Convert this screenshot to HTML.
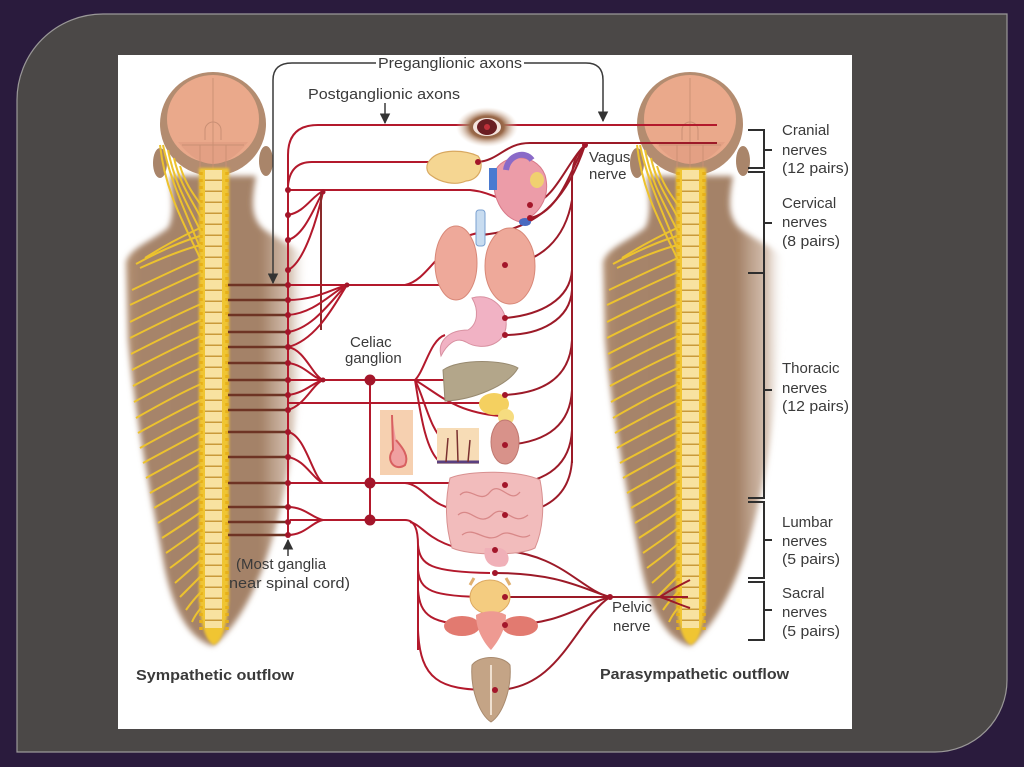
<!DOCTYPE html>
<html><head><meta charset="utf-8"><style>
html,body{margin:0;padding:0;background:#2a1b3d;}
svg{display:block;}
text{font-family:"Liberation Sans",sans-serif;fill:#3a3a3a;}
</style></head><body>
<svg width="1024" height="767" viewBox="0 0 1024 767" xmlns="http://www.w3.org/2000/svg">
<defs>
  <linearGradient id="bodyG" x1="0" y1="0" x2="1" y2="0">
    <stop offset="0" stop-color="#b38f70"/>
    <stop offset="0.08" stop-color="#a6846a"/>
    <stop offset="0.74" stop-color="#a48268"/>
    <stop offset="0.9" stop-color="#c2a58e" stop-opacity="0.7"/>
    <stop offset="1" stop-color="#ffffff" stop-opacity="0"/>
  </linearGradient>
  <filter id="soft" x="-10%" y="-10%" width="120%" height="120%"><feGaussianBlur stdDeviation="3"/></filter>
  <filter id="soft1" x="-20%" y="-20%" width="140%" height="140%"><feGaussianBlur stdDeviation="1.2"/></filter>
  <radialGradient id="eyeG" cx="0.5" cy="0.5" r="0.5">
    <stop offset="0" stop-color="#6a3a2a"/>
    <stop offset="0.55" stop-color="#9a6a4a"/>
    <stop offset="1" stop-color="#e8d2c0" stop-opacity="0"/>
  </radialGradient>
  <pattern id="vert" x="0" y="170" width="20" height="11" patternUnits="userSpaceOnUse">
    <rect width="20" height="11" fill="#f8e2a0"/>
    <rect y="9.5" width="20" height="1.5" fill="#c99a3a"/>
  </pattern>
  <marker id="ah" viewBox="0 0 10 10" refX="9" refY="5" markerWidth="7" markerHeight="7" orient="auto">
    <path d="M0 0 L10 5 L0 10 Z" fill="#333"/>
  </marker>
  <g id="fig">
    <path filter="url(#soft)" fill="url(#bodyG)" d="M213 646 C190 640 172 610 163 560 C152 500 135 420 128 340 L126 262 C130 248 150 242 168 228 C175 215 172 195 170 176 L256 176 C252 200 250 215 262 228 C275 238 292 245 308 258 L302 360 C294 470 270 600 213 646 Z"/>
    <ellipse cx="160" cy="163" rx="7" ry="15" fill="#a9856a"/>
    <ellipse cx="266" cy="161" rx="7" ry="15" fill="#a9856a"/>
    <ellipse cx="213" cy="124" rx="53" ry="52" fill="#b38c70"/>
    <ellipse cx="213" cy="119" rx="46" ry="44" fill="#eaa98b"/>
    <path d="M178 142 Q213 186 248 142 Z" fill="#e3a084"/>
    <path d="M213 78 L213 170 M182 145 L244 145 M200 145 L200 168 M226 145 L226 168" stroke="#c98f74" stroke-width="0.9" fill="none"/>
    <path d="M205 140 L205 130 A8 8 0 1 1 221 130 L221 140" stroke="#c98f74" stroke-width="1" fill="none"/>
    <!-- spine -->
    <path d="M199 168 L229 168 L229 600 Q226 640 214 645 Q202 640 199 600 Z" fill="#f0c530" filter="url(#soft1)"/>
    <path d="M205 170 L222 170 L222 628 L205 628 Z" fill="url(#vert)"/>
    <path d="M201 172 L201 632 M227 172 L227 632" stroke="#e6b01a" stroke-width="3.5" stroke-dasharray="3 4" fill="none"/>
    <!-- nerves -->
    <g stroke="#ecc22e" stroke-width="2" fill="none">
      <path d="M160 145 C165 190 182 220 200 258"/>
      <path d="M163 145 C170 180 185 210 200 248"/>
      <path d="M168 150 C175 185 188 205 201 232"/>
      <path d="M174 158 C180 185 192 200 201 218"/>
      <path d="M180 166 C186 185 194 195 201 205"/>
      <path d="M200 228 C185 235 165 245 145 258"/>
      <path d="M200 236 C180 242 158 252 136 264"/>
      <path d="M201 245 Q180 250 140 268"/>
      <path d="M201 258 Q178 268 132 290"/>
      <path d="M201 272 Q178 282 130 305"/>
      <path d="M201 288 Q178 298 130 322"/>
      <path d="M201 304 Q178 314 130 338"/>
      <path d="M201 320 Q178 330 131 354"/>
      <path d="M201 336 Q178 346 132 370"/>
      <path d="M201 352 Q178 362 133 386"/>
      <path d="M201 368 Q178 378 134 402"/>
      <path d="M201 384 Q178 394 136 418"/>
      <path d="M201 400 Q180 410 138 433"/>
      <path d="M201 416 Q180 426 140 448"/>
      <path d="M201 432 Q182 442 143 463"/>
      <path d="M201 448 Q182 458 146 478"/>
      <path d="M201 464 Q184 474 150 493"/>
      <path d="M201 480 Q185 490 154 508"/>
      <path d="M201 496 Q186 506 158 523"/>
      <path d="M201 512 Q187 522 162 538"/>
      <path d="M201 528 Q188 538 166 553"/>
      <path d="M201 544 Q189 554 170 568"/>
      <path d="M201 560 Q190 570 175 583"/>
      <path d="M201 576 Q192 585 180 597"/>
      <path d="M201 592 Q193 600 186 610"/>
      <path d="M201 608 Q195 615 192 622"/>
    </g>
  </g>
</defs>

<!-- frame -->
<path d="M17 100 A86 86 0 0 1 103 14 L1007 14 L1007 680 A72 72 0 0 1 935 752 L17 752 Z" fill="#4b4847" stroke="#9a9898" stroke-width="1.2"/>
<rect x="118" y="55" width="734" height="674" fill="#ffffff"/>

<!-- figures -->
<use href="#fig"/>
<use href="#fig" transform="translate(477,0)"/>

<!-- sympathetic horizontal brown lines -->
<g stroke="#6e3424" stroke-width="2.5">
  <path d="M228 285H290 M228 300H290 M228 315H290 M228 332H290 M228 347H290 M228 363H290 M228 380H290 M228 395H290 M228 410H290 M228 432H290 M228 457H290 M228 483H290 M228 507H290 M228 522H290 M228 535H290"/>
</g>

<!-- red sympathetic lines -->
<g stroke="#b3192c" stroke-width="2" fill="none">
  <path d="M288 537 L288 155 Q288 125 318 125 L717 125"/>
  <path d="M288 186 Q290 162 312 162 L448 162"/>
  <path d="M288 190 L470 190 C490 192 500 200 525 208"/>
  <path d="M288 215 C305 212 312 196 323 191"/>
  <path d="M288 240 C305 235 315 205 323 192"/>
  <path d="M288 270 C305 262 318 215 323 192"/>
  <path d="M321 192 L321 330" stroke="#8a2a2a"/>
  <path d="M290 285 L452 285"/>
  <path d="M288 300 C315 300 330 290 347 285"/>
  <path d="M288 315 C315 313 332 292 347 285"/>
  <path d="M288 332 C315 328 335 295 347 285"/>
  <path d="M288 347 C318 340 338 298 347 285"/>
  <path d="M405 285 C430 280 440 240 478 233"/>
  <path d="M288 347 C305 350 312 375 323 380"/>
  <path d="M288 363 C305 365 312 378 323 380"/>
  <path d="M288 395 C305 393 312 383 323 380"/>
  <path d="M288 410 C305 405 312 385 323 380"/>
  <path d="M290 380 L450 380"/>
  <path d="M288 403 L490 403"/>
  <path d="M370 380 L370 520"/>
  <path d="M415 380 C425 370 430 340 445 335"/>
  <path d="M415 380 C425 400 430 430 445 442"/>
  <path d="M415 380 C420 410 425 450 440 462"/>
  <path d="M415 380 C440 395 455 412 500 416"/>
  <path d="M288 432 C305 435 312 475 323 483"/>
  <path d="M288 457 C305 460 312 478 323 483"/>
  <path d="M290 483 L470 483"/>
  <path d="M405 483 C425 485 430 510 465 510"/>
  <path d="M288 507 C305 507 312 518 323 520"/>
  <path d="M288 535 C305 535 312 522 323 520"/>
  <path d="M290 520 L405 520 C415 520 418 530 418 545 L418 650"/>
  <path d="M410 522 C425 525 430 550 490 552"/>
  <path d="M418 545 C420 565 430 572 490 573"/>
  <path d="M418 570 C420 590 430 597 490 597"/>
  <path d="M418 590 C420 615 430 625 480 625"/>
  <path d="M418 630 C420 680 440 690 490 690"/>
</g>
<!-- pelvic & vagus (parasympathetic) -->
<g stroke="#9c1a28" stroke-width="2" fill="none">
  <path d="M688 597 L610 597"/>
  <path d="M660 597 C670 590 680 585 690 580 M660 597 C670 600 680 605 690 608"/>
  <path d="M610 597 C580 590 560 552 495 550"/>
  <path d="M610 597 C585 590 560 573 495 573"/>
  <path d="M610 597 L505 597"/>
  <path d="M610 597 C580 605 560 625 505 625"/>
  <path d="M610 597 C575 620 560 690 495 690"/>
  <path d="M478 162 C500 160 505 143 530 143 L717 143"/>
  <path d="M585 145 C565 165 555 200 530 205"/>
  <path d="M585 145 C570 170 560 212 530 218"/>
  <path d="M585 145 C570 190 545 230 480 235"/>
  <path d="M585 145 C575 155 572 165 572 180 L572 463"/>
  <path d="M572 200 C565 240 540 262 505 265"/>
  <path d="M572 270 C570 300 540 315 505 318"/>
  <path d="M572 290 C570 320 540 335 505 335"/>
  <path d="M572 340 C570 380 540 393 505 395"/>
  <path d="M572 390 C570 430 540 443 505 445"/>
  <path d="M572 430 C570 470 540 483 505 485"/>
  <path d="M572 460 C570 500 540 513 505 515"/>
</g>

<!-- organs -->
<ellipse cx="487" cy="127" rx="31" ry="20" fill="url(#eyeG)"/>
<ellipse cx="487" cy="127" rx="14" ry="9" fill="#f3e3dc"/>
<ellipse cx="487" cy="127" rx="10" ry="8" fill="#6a1e22"/>
<circle cx="487" cy="127" r="3" fill="#c0303a"/>
<path d="M430 160 C440 148 465 150 478 156 C485 165 480 180 466 181 C455 186 440 182 432 176 C425 172 426 164 430 160 Z" fill="#f5d692" stroke="#d8a860" stroke-width="1.2"/>
<path d="M495 172 C500 155 535 150 545 175 C552 200 535 218 520 222 C502 218 490 195 495 172 Z" fill="#ec9ca8" stroke="#d87888" stroke-width="1"/>
<rect x="489" y="168" width="8" height="22" fill="#4a7ad0"/>
<path d="M506 170 C508 155 525 150 532 160" stroke="#8a6ac8" stroke-width="6" fill="none"/>
<ellipse cx="537" cy="180" rx="7" ry="8" fill="#f0d070"/>
<ellipse cx="525" cy="222" rx="6" ry="4" fill="#4a6ac0"/>
<rect x="476" y="210" width="9" height="36" rx="3" fill="#c8dcf0" stroke="#7aa0d0"/>
<ellipse cx="456" cy="263" rx="21" ry="37" fill="#eea99a" stroke="#d88878"/>
<ellipse cx="510" cy="266" rx="25" ry="38" fill="#eea99a" stroke="#d88878"/>
<path d="M472 298 C490 293 503 305 506 320 C509 345 482 352 466 342 C455 336 446 346 441 356 C437 340 450 330 468 330 C478 324 479 310 472 298 Z" fill="#f1b2c4" stroke="#d890a0"/>
<path d="M443 370 C460 358 505 360 518 368 C508 386 472 400 445 401 Z" fill="#b3a68a" stroke="#988a70"/>
<ellipse cx="494" cy="404" rx="15" ry="11" fill="#f4d060"/>
<ellipse cx="506" cy="417" rx="8" ry="8" fill="#f6dc80"/>
<ellipse cx="505" cy="442" rx="14" ry="22" fill="#d8928a" stroke="#c07870"/>
<rect x="380" y="410" width="33" height="65" fill="#f6d0b0"/>
<path d="M392 415 L393 450 C385 460 395 472 405 465 C410 455 400 445 396 440" stroke="#d86060" stroke-width="2" fill="#f0a0a0"/>
<rect x="437" y="428" width="42" height="36" fill="#f7dcb6"/>
<path d="M437 462 L479 462" stroke="#5a4080" stroke-width="3"/>
<path d="M446 462 L448 438 M458 462 L457 430 M468 462 L470 440" stroke="#7a3030" stroke-width="1.5"/>
<path d="M450 478 C470 470 520 470 540 480 C545 505 543 530 535 548 C520 556 470 556 452 548 C445 525 445 500 450 478 Z" fill="#f2bcbc" stroke="#d89090"/>
<path d="M460 495 C470 485 480 505 490 492 C500 480 510 505 520 492 M458 515 C470 505 478 528 492 515 C505 502 512 528 528 515 M462 535 C475 525 485 545 500 535 C510 528 520 542 530 535" stroke="#d88888" stroke-width="1.3" fill="none"/>
<path d="M485 548 C482 560 490 570 505 566 C512 560 508 550 500 548 Z" fill="#f0b0b8"/>
<path d="M470 585 L474 578 M510 585 L506 578" stroke="#e0b070" stroke-width="3"/>
<ellipse cx="490" cy="597" rx="20" ry="17" fill="#f4cc80" stroke="#dca860"/>
<ellipse cx="462" cy="626" rx="18" ry="10" fill="#e27a70"/>
<ellipse cx="520" cy="626" rx="18" ry="10" fill="#e27a70"/>
<path d="M476 615 C485 610 498 610 506 615 C506 632 495 645 491 650 C486 645 476 632 476 615 Z" fill="#ee9a92"/>
<path d="M472 665 C480 655 502 655 510 665 C512 690 502 715 491 722 C480 715 470 690 472 665 Z" fill="#c4a486" stroke="#a88a6e"/>
<path d="M491 665 L491 715" stroke="#efe0d0" stroke-width="2"/>

<!-- red dots -->
<g fill="#a3162a">
  <circle cx="288" cy="190" r="3"/><circle cx="288" cy="215" r="3"/><circle cx="288" cy="240" r="3"/><circle cx="288" cy="270" r="3"/>
  <circle cx="288" cy="285" r="3"/><circle cx="288" cy="300" r="3"/><circle cx="288" cy="315" r="3"/><circle cx="288" cy="332" r="3"/>
  <circle cx="288" cy="347" r="3"/><circle cx="288" cy="363" r="3"/><circle cx="288" cy="380" r="3"/><circle cx="288" cy="395" r="3"/>
  <circle cx="288" cy="410" r="3"/><circle cx="288" cy="432" r="3"/><circle cx="288" cy="457" r="3"/><circle cx="288" cy="483" r="3"/>
  <circle cx="288" cy="507" r="3"/><circle cx="288" cy="522" r="3"/><circle cx="288" cy="535" r="3"/>
  <circle cx="370" cy="380" r="5.5"/><circle cx="370" cy="483" r="5.5"/><circle cx="370" cy="520" r="5.5"/>
  <circle cx="347" cy="285" r="2.5"/><circle cx="323" cy="380" r="2.5"/><circle cx="323" cy="192" r="2.5"/>
  <circle cx="478" cy="162" r="3"/><circle cx="530" cy="205" r="3"/><circle cx="530" cy="218" r="3"/><circle cx="505" cy="265" r="3"/>
  <circle cx="505" cy="318" r="3"/><circle cx="505" cy="335" r="3"/><circle cx="505" cy="395" r="3"/><circle cx="505" cy="445" r="3"/>
  <circle cx="505" cy="485" r="3"/><circle cx="505" cy="515" r="3"/><circle cx="495" cy="550" r="3"/><circle cx="495" cy="573" r="3"/>
  <circle cx="505" cy="597" r="3"/><circle cx="505" cy="625" r="3"/><circle cx="495" cy="690" r="3"/><circle cx="585" cy="145" r="3"/><circle cx="610" cy="597" r="3"/>
</g>

<!-- black arrows -->
<g stroke="#3a3a3a" stroke-width="1.5" fill="none">
  <path d="M273 80 Q273 63 292 63 L376 63" />
  <path d="M273 80 L273 283" marker-end="url(#ah)"/>
  <path d="M524 63 L586 63 Q603 63 603 80 L603 121" marker-end="url(#ah)"/>
  <path d="M385 103 L385 123" marker-end="url(#ah)"/>
  <path d="M288 556 L288 540" marker-end="url(#ah)"/>
</g>

<!-- right brackets -->
<g stroke="#2e2e2e" stroke-width="2" fill="none">
  <path d="M748 130 H764 V168 H748 M748 172 H764 V273 H748 M764 273 V498 H748 M748 502 H764 V578 H748 M748 582 H764 V640 H748"/>
  <path d="M764 150 H772 M764 223 H772 M764 390 H772 M764 540 H772 M764 610 H772"/>
</g>

<!-- labels -->
<g font-size="15">
  <text x="378" y="68" textLength="144" lengthAdjust="spacingAndGlyphs">Preganglionic axons</text>
  <text x="308" y="99" textLength="152" lengthAdjust="spacingAndGlyphs">Postganglionic axons</text>
  <text x="589" y="162">Vagus</text>
  <text x="589" y="179">nerve</text>
  <text x="350" y="347">Celiac</text>
  <text x="345" y="363">ganglion</text>
  <text x="236" y="569">(Most ganglia</text>
  <text x="229" y="588" textLength="121" lengthAdjust="spacingAndGlyphs">near spinal cord)</text>
  <text x="612" y="612">Pelvic</text>
  <text x="613" y="631">nerve</text>
  <text x="782" y="135">Cranial</text>
  <text x="782" y="155">nerves</text>
  <text x="782" y="173" textLength="67" lengthAdjust="spacingAndGlyphs">(12 pairs)</text>
  <text x="782" y="208">Cervical</text>
  <text x="782" y="227">nerves</text>
  <text x="782" y="246" textLength="58" lengthAdjust="spacingAndGlyphs">(8 pairs)</text>
  <text x="782" y="373">Thoracic</text>
  <text x="782" y="393">nerves</text>
  <text x="782" y="411" textLength="67" lengthAdjust="spacingAndGlyphs">(12 pairs)</text>
  <text x="782" y="527">Lumbar</text>
  <text x="782" y="546">nerves</text>
  <text x="782" y="564" textLength="58" lengthAdjust="spacingAndGlyphs">(5 pairs)</text>
  <text x="782" y="598">Sacral</text>
  <text x="782" y="617">nerves</text>
  <text x="782" y="636" textLength="58" lengthAdjust="spacingAndGlyphs">(5 pairs)</text>
</g>
<g font-size="15" font-weight="bold">
  <text x="136" y="680" textLength="158" lengthAdjust="spacingAndGlyphs">Sympathetic outflow</text>
  <text x="600" y="679" textLength="189" lengthAdjust="spacingAndGlyphs">Parasympathetic outflow</text>
</g>
</svg>
</body></html>
